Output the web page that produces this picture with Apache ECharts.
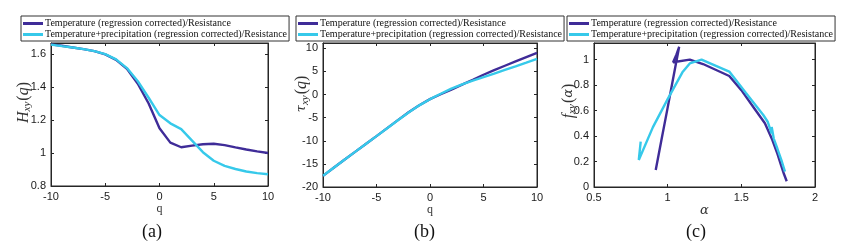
<!DOCTYPE html>
<html><head><meta charset="utf-8">
<script src="https://cdn.jsdelivr.net/npm/echarts@6/dist/echarts.min.js"></script>
<style>html,body{margin:0;padding:0;background:#fff}#c{width:852px;height:246px}</style>
</head><body><div id="c"></div>
<script>
// ---- data ----
const seriesNames = ['Temperature (regression corrected)/Resistance',
                     'Temperature+precipitation (regression corrected)/Resistance'];
const q = [-10,-9,-8,-7,-6,-5,-4,-3,-2,-1,0,1,2,3,4,5,6,7,8,9,10];
// (a) generalized Hurst exponent H_xy(q)
const hTemp   = [1.659,1.650,1.640,1.630,1.618,1.598,1.565,1.510,1.420,1.300,1.150,1.063,1.035,1.045,1.053,1.056,1.048,1.034,1.021,1.010,1.000];
const hTempPr = [1.657,1.648,1.640,1.630,1.618,1.600,1.568,1.515,1.435,1.335,1.230,1.180,1.145,1.075,1.005,0.953,0.922,0.903,0.888,0.878,0.871];
// (b) mass exponent tau_xy(q)
const tauTemp   = [-17.6,-15.85,-14.1,-12.4,-10.7,-9.0,-7.27,-5.53,-3.85,-2.3,-1.0,0.06,1.07,2.13,3.2,4.28,5.28,6.23,7.16,8.09,9.0];
const tauTempPr = [-17.57,-15.83,-14.1,-12.4,-10.7,-9.0,-7.28,-5.55,-3.87,-2.34,-1.0,0.18,1.29,2.22,3.02,3.76,4.53,5.32,6.1,6.9,7.71];
// (c) singularity spectrum: alpha and f_xy(alpha)
const alphaTemp = [1.808,1.790,1.770,1.745,1.710,1.660,1.580,1.500,1.418,1.240,1.150,1.037,1.060,1.078,1.038,0.999,0.959,0.919];
const fTemp     = [0.045,0.100,0.170,0.260,0.370,0.500,0.630,0.760,0.871,0.965,1.000,0.979,1.040,1.100,0.858,0.617,0.376,0.134];
const alphaTempPr = [1.796,1.775,1.745,1.720,1.706,1.705,1.680,1.649,1.530,1.418,1.300,1.230,1.150,1.100,1.000,0.900,0.804,0.817];
const fTempPr     = [0.120,0.200,0.300,0.380,0.471,0.420,0.510,0.565,0.740,0.906,0.965,1.000,0.970,0.900,0.690,0.470,0.212,0.356];
// axis ticks
const xTicksA = {min:-10,max:10,interval:5};
const yTicksA = {min:0.8,max:1.667,interval:0.2};
const xTicksB = {min:-10,max:10,interval:5};
const yTicksB = {min:-20,max:11.15,interval:5};
const xTicksC = {min:0.5,max:2,interval:0.5};
const yTicksC = {min:0,max:1.13,interval:0.2};

const C1 = '#3f2c98', C2 = '#36c9ea';
const AX = '#262626';
const grids = [
  {left:51, top:43, width:217, height:143},
  {left:323, top:43, width:214, height:144},
  {left:594, top:43, width:221, height:144}
].map(g=>Object.assign(g,{show:true,borderColor:AX,borderWidth:1,backgroundColor:'transparent'}));
const xT = [xTicksA,xTicksB,xTicksC], yT=[yTicksA,yTicksB,yTicksC];
const xNames = ['q','q','{g|α}'];
const yNames = ['{i|H}{s|xy}{n|(}{i|q}{n|)}','{g|τ}{s|xy}{n|(}{i|q}{n|)}','{i|f}{s|xy}{n|(}{g|α}{n|)}'];
const yGaps = [18,12,16];
const yShift = [24,42,28];
const nameRich = {
  i:{fontFamily:'Liberation Serif',fontStyle:'italic',fontSize:16,color:'#333'},
  g:{fontFamily:'DejaVu Serif',fontStyle:'italic',fontSize:13,color:'#333'},
  s:{fontFamily:'Liberation Serif',fontStyle:'italic',fontSize:11,color:'#333',verticalAlign:'bottom',padding:[7,1,0,0]},
  n:{fontFamily:'Liberation Serif',fontSize:16,color:'#333'}
};
const xAxis=[], yAxis=[];
for(let k=0;k<3;k++){
  const common = {type:'value',gridIndex:k,splitLine:{show:false},nameMoveOverlap:false,
    axisLine:{show:true,onZero:false,lineStyle:{color:AX,width:1}},
    axisTick:{show:true,inside:true,length:3,lineStyle:{color:AX}}};
  xAxis.push(Object.assign({},common,xT[k],{position:'bottom',name:xNames[k],nameLocation:'middle',nameGap:17,
    nameTextStyle:{fontFamily:'Liberation Serif',fontSize:12,color:'#333',rich:nameRich},
    axisLabel:{fontFamily:'Liberation Sans',fontSize:11,color:'#1a1a1a',margin:5}}));
  xAxis.push(Object.assign({},common,xT[k],{position:'top',show:true,axisLabel:{show:false}}));
  yAxis.push(Object.assign({},common,yT[k],{position:'left',name:yNames[k],nameLocation:'middle',nameGap:yGaps[k],
    nameTextStyle:{rich:nameRich,padding:[0,0,0,yShift[k]]},
    axisLabel:{fontFamily:'Liberation Sans',fontSize:11,color:'#1a1a1a',margin:5,showMaxLabel:false}}));
  yAxis.push(Object.assign({},common,yT[k],{position:'right',show:true,axisLabel:{show:false}}));
}
const zip=(a,b)=>a.map((v,i)=>[v,b[i]]);
const mk=(name,data,k,color)=>({type:'line',name,xAxisIndex:2*k,yAxisIndex:2*k,data,showSymbol:false,symbol:'none',
  clip:true,lineStyle:{color,width:2.4},itemStyle:{color},animation:false});
const series=[
  mk(seriesNames[0],zip(q,hTemp),0,C1), mk(seriesNames[1],zip(q,hTempPr),0,C2),
  mk(seriesNames[0],zip(q,tauTemp),1,C1), mk(seriesNames[1],zip(q,tauTempPr),1,C2),
  mk(seriesNames[0],zip(alphaTemp,fTemp),2,C1), mk(seriesNames[1],zip(alphaTempPr,fTempPr),2,C2)
];
const legLeft=[21,296,567];
const legend=legLeft.map(l=>({data:seriesNames,orient:'vertical',left:l,top:16,itemGap:0,itemWidth:20,itemHeight:3,icon:'rect',
  padding:[2,2,1,2],borderColor:'#333',borderWidth:1,selectedMode:false,
  textStyle:{fontFamily:'Liberation Serif',fontSize:10,color:'#111',lineHeight:11,padding:[0,0,0,-3]}}));
const caps=[['(a)',153],['(b)',425],['(c)',697]];
const graphic=caps.map(c=>({type:'text',left:c[1]-11,top:223,style:{text:c[0],font:'18px "Liberation Serif"',fill:'#111'}}));
const chart=echarts.init(document.getElementById('c'),null,{renderer:'canvas'});
chart.setOption({animation:false,grid:grids,xAxis,yAxis,series,legend,graphic});
</script></body></html>
